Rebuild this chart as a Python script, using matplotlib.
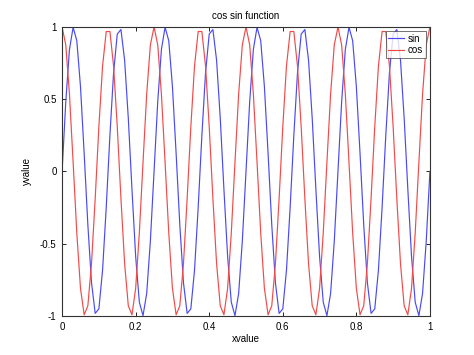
import matplotlib
matplotlib.use("Agg")
import matplotlib.pyplot as plt

plt.rcParams['font.family'] = ['Liberation Sans', 'DejaVu Sans']

x_values = [i / 100 for i in range(101)]

sin_values = [
    0.0000, 0.4818, 0.8443, 0.9980, 0.9048, 0.5878, 0.1253, -0.3681, -0.7705, -0.9823,
    -0.9511, -0.6845, -0.2487, 0.2487, 0.6845, 0.9511, 0.9823, 0.7705, 0.3681, -0.1253,
    -0.5878, -0.9048, -0.9980, -0.8443, -0.4818,
    0.0000, 0.4818, 0.8443, 0.9980, 0.9048, 0.5878, 0.1253, -0.3681, -0.7705, -0.9823,
    -0.9511, -0.6845, -0.2487, 0.2487, 0.6845, 0.9511, 0.9823, 0.7705, 0.3681, -0.1253,
    -0.5878, -0.9048, -0.9980, -0.8443, -0.4818,
    0.0000, 0.4818, 0.8443, 0.9980, 0.9048, 0.5878, 0.1253, -0.3681, -0.7705, -0.9823,
    -0.9511, -0.6845, -0.2487, 0.2487, 0.6845, 0.9511, 0.9823, 0.7705, 0.3681, -0.1253,
    -0.5878, -0.9048, -0.9980, -0.8443, -0.4818,
    0.0000, 0.4818, 0.8443, 0.9980, 0.9048, 0.5878, 0.1253, -0.3681, -0.7705, -0.9823,
    -0.9511, -0.6845, -0.2487, 0.2487, 0.6845, 0.9511, 0.9823, 0.7705, 0.3681, -0.1253,
    -0.5878, -0.9048, -0.9980, -0.8443, -0.4818,
    0.0000,
]

cos_values = [
    1.0000, 0.8763, 0.5358, 0.0628, -0.4258, -0.8090, -0.9921, -0.9298, -0.6374, -0.1874,
    0.3090, 0.7290, 0.9686, 0.9686, 0.7290, 0.3090, -0.1874, -0.6374, -0.9298, -0.9921,
    -0.8090, -0.4258, 0.0628, 0.5358, 0.8763,
    1.0000, 0.8763, 0.5358, 0.0628, -0.4258, -0.8090, -0.9921, -0.9298, -0.6374, -0.1874,
    0.3090, 0.7290, 0.9686, 0.9686, 0.7290, 0.3090, -0.1874, -0.6374, -0.9298, -0.9921,
    -0.8090, -0.4258, 0.0628, 0.5358, 0.8763,
    1.0000, 0.8763, 0.5358, 0.0628, -0.4258, -0.8090, -0.9921, -0.9298, -0.6374, -0.1874,
    0.3090, 0.7290, 0.9686, 0.9686, 0.7290, 0.3090, -0.1874, -0.6374, -0.9298, -0.9921,
    -0.8090, -0.4258, 0.0628, 0.5358, 0.8763,
    1.0000, 0.8763, 0.5358, 0.0628, -0.4258, -0.8090, -0.9921, -0.9298, -0.6374, -0.1874,
    0.3090, 0.7290, 0.9686, 0.9686, 0.7290, 0.3090, -0.1874, -0.6374, -0.9298, -0.9921,
    -0.8090, -0.4258, 0.0628, 0.5358, 0.8763,
    1.0000,
]

xticks = [0, 0.2, 0.4, 0.6, 0.8, 1]
xtick_labels = ["0", "0.2", "0.4", "0.6", "0.8", "1"]
yticks = [-1, -0.5, 0, 0.5, 1]
ytick_labels = ["-1", "-0.5", "0", "0.5", "1"]

fig = plt.figure(figsize=(4.74, 3.55), dpi=100)
ax = fig.add_axes([0.131, 0.110, 0.776, 0.814])

ax.plot(x_values, sin_values, color='#4a4af2', lw=0.85, label='sin')
ax.plot(x_values, cos_values, color='#f24a4a', lw=0.85, label='cos')

ax.set_xlim(0, 1)
ax.set_ylim(-1, 1)
ax.set_xticks(xticks)
ax.set_xticklabels(xtick_labels)
ax.set_yticks(yticks)
ax.set_yticklabels(ytick_labels)
ax.tick_params(direction='in', top=True, right=True, labelsize=7, length=3, width=0.6, pad=4)
for s in ax.spines.values():
    s.set_linewidth(0.8)
    s.set_color('#333333')

ax.set_title('cos sin function', fontsize=7, pad=6)
ax.set_xlabel('xvalue', fontsize=7, labelpad=2)
ax.set_ylabel('yvalue', fontsize=7, labelpad=6)

leg = ax.legend(loc='upper right', fontsize=7, frameon=True, fancybox=False,
                borderaxespad=0.45, handlelength=1.6, handletextpad=0.4,
                borderpad=0.25, labelspacing=0.15, markerfirst=True)
leg.get_frame().set_edgecolor('#333333')
leg.get_frame().set_linewidth(0.6)

fig.savefig('out.png', dpi=100)
